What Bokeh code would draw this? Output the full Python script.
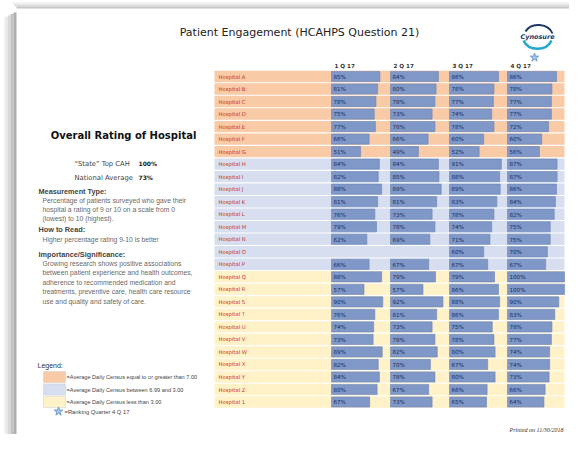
from bokeh.plotting import figure
from bokeh.models import Range1d, ColumnDataSource
from bokeh.core.properties import value
from bokeh.embed import file_html
from bokeh.resources import INLINE

# ---------------- data ----------------
hospitals = ["Hospital A", "Hospital B", "Hospital C", "Hospital D", "Hospital E", "Hospital F",
             "Hospital G", "Hospital H", "Hospital I", "Hospital J", "Hospital K", "Hospital L",
             "Hospital M", "Hospital N", "Hospital O", "Hospital P", "Hospital Q", "Hospital R",
             "Hospital S", "Hospital T", "Hospital U", "Hospital V", "Hospital W", "Hospital X",
             "Hospital Y", "Hospital Z", "Hospital 1"]
census_group = [0] * 7 + [1] * 9 + [2] * 11
quarters = ["1 Q 17", "2 Q 17", "3 Q 17", "4 Q 17"]
q1 = [85, 81, 78, 75, 77, 66, 51, 84, 82, 88, 81, 76, 79, 62, None, 66,
      88, 57, 90, 76, 74, 73, 89, 82, 84, 80, 67]
q2 = [84, 80, 78, 73, 78, 66, 49, 84, 85, 89, 81, 73, 78, 69, None, 67,
      79, 57, 92, 81, 73, 78, 82, 70, 78, 67, 73]
q3 = [86, 78, 77, 74, 78, 60, 52, 91, 88, 89, 83, 78, 74, 71, 60, 67,
      79, 86, 88, 86, 75, 78, 80, 67, 80, 66, 65]
q4 = [86, 78, 77, 77, 72, 60, 56, 87, 87, 86, 84, 82, 75, 75, 70, 67,
      100, 100, 90, 83, 78, 77, 74, 74, 73, 66, 64]
series = [q1, q2, q3, q4]
state_top = "100%"
national_avg = "73%"
legend_labels = ["=Average Daily Census equal to or greater than 7.00",
                 "=Average Daily Census between 6.99 and 3.00",
                 "=Average Daily Census less than 3.00"]

# ---------------- styles / layout ----------------
group_colors = ["#F9CAA6", "#D6DEEF", "#FFF2C8"]
bar_color = "#7F98C8"
bar_line = "#6A84B6"
W, H = 569, 434
row_y0, row_pitch = 76.0, 12.52
table_left, table_right = 214, 564
col_x0 = [331, 390, 449, 507]
px_per_pct = 0.57

p = figure(width=W, height=H, x_range=Range1d(0, W), y_range=Range1d(H, 0),
           output_backend="svg", toolbar_location=None, min_border=0,
           x_axis_location=None, y_axis_location=None)
p.xgrid.visible = False
p.ygrid.visible = False
p.outline_line_color = None
p.background_fill_color = "white"
p.border_fill_color = "white"

# paper shadow (left and top)
lshadow = [(4, 7, "#ececec"), (7, 10, "#d8d8d8"), (10, 13, "#c2c2c2"), (13, 16, "#adadad")]
for a, b, c in lshadow:
    p.quad(left=a, right=b, top=8 + (16 - b) * 0.5 + 4, bottom=H, fill_color=c, line_color=None)
tshadow = [(2, 4, "#eeeeee"), (4, 6, "#dcdcdc"), (6, 8, "#c6c6c6")]
for a, b, c in tshadow:
    p.quad(left=16 - (8 - b), right=W, top=a, bottom=b, fill_color=c, line_color=None)

# title
FONT = value("DejaVu Sans")
p.text(x=[299], y=[32], text=["Patient Engagement (HCAHPS Question 21)"], text_font=FONT,
       text_font_size="11px", text_align="center", text_baseline="middle", text_color="#222222")

# logo
p.bezier(x0=[525], y0=[31], x1=[552], y1=[33], cx0=[531], cy0=[21], cx1=[548], cy1=[23],
         line_color="#1F3864", line_width=2)
p.bezier(x0=[523], y0=[40], x1=[551], y1=[40], cx0=[528], cy0=[51], cx1=[546], cy1=[51],
         line_color="#23A7CB", line_width=2.5)
p.text(x=[537], y=[36], text=["Cynosure"], text_font=FONT, text_font_size="6.5px",
       text_font_style="bold italic", text_align="center", text_baseline="middle",
       text_color="#1F3864")

# ---------------- table ----------------
n = len(hospitals)
cy = [row_y0 + i * row_pitch for i in range(n)]
band = ColumnDataSource(dict(
    top=[c - 5.7 for c in cy], bottom=[c + 5.7 for c in cy],
    color=[group_colors[g] for g in census_group]))
p.quad(left=table_left, right=table_right, top="top", bottom="bottom", fill_color="color",
       line_color=None, source=band)

p.text(x=[table_left + 4] * n, y=cy, text=hospitals, text_font=FONT, text_font_size="5.3px",
       text_baseline="middle", text_color="#C8372D")

for j, vals in enumerate(series):
    idx = [i for i, v in enumerate(vals) if v is not None]
    src = ColumnDataSource(dict(
        left=[col_x0[j]] * len(idx),
        right=[col_x0[j] + vals[i] * px_per_pct for i in idx],
        top=[cy[i] - 5.1 for i in idx],
        bottom=[cy[i] + 5.1 for i in idx],
        lx=[col_x0[j] + 2] * len(idx),
        ly=[cy[i] + 0.3 for i in idx],
        lab=["%d%%" % vals[i] for i in idx]))
    p.quad(left="left", right="right", top="top", bottom="bottom", fill_color=bar_color,
           line_color=bar_line, line_width=0.6, source=src)
    p.text(x="lx", y="ly", text="lab", text_font=FONT, text_font_size="5.6px",
           text_baseline="middle", text_color="#1B2C5C", source=src)

p.text(x=[x + 3 for x in col_x0], y=[65] * 4, text=quarters, text_font=FONT,
       text_font_size="5.6px", text_font_style="bold", text_baseline="middle",
       text_color="#333333")
p.scatter(x=[col_x0[3] + 27], y=[57], marker="star", size=9, fill_color="#A9C8E8",
          line_color="#5B8BC5", line_width=0.8)

# ---------------- left panel ----------------
p.text(x=[123], y=[135], text=["Overall Rating of Hospital"], text_font=FONT,
       text_font_size="10px", text_font_style="bold", text_align="center",
       text_baseline="middle", text_color="#111111")
p.text(x=[74, 74], y=[163, 177], text=["\u201cState\u201d Top CAH", "National Average"],
       text_font=FONT, text_font_size="6.8px", text_baseline="middle", text_color="#444444")
p.text(x=[138, 138], y=[163, 177], text=[state_top, national_avg], text_font=FONT,
       text_font_size="6px", text_font_style="bold", text_baseline="middle",
       text_color="#222222")

LIB = value("Liberation Sans")
heads = ["Measurement Type:", "How to Read:", "Importance/Significance:"]
head_y = [191, 229, 254]
p.text(x=[38] * 3, y=head_y, text=heads, text_font=LIB, text_font_size="7.3px",
       text_font_style="bold", text_baseline="middle", text_color="#444444")
body = ["Percentage of patients surveyed who gave their",
        "hospital a rating of 9 or 10 on a scale from 0",
        "(lowest) to 10 (highest).",
        "Higher percentage rating 9-10 is better",
        "Growing research shows positive associations",
        "between patient experience and health outcomes,",
        "adherence to recommended medication and",
        "treatments, preventive care, health care resource",
        "use and quality and safety of care."]
body_y = [200, 209, 218, 239, 262.5, 272, 281.5, 291, 300.5]
p.text(x=[42] * len(body), y=body_y, text=body, text_font=LIB, text_font_size="6.8px",
       text_baseline="middle", text_color="#6a6a6a")

# legend
p.text(x=[37], y=[365], text=["Legend:"], text_font=LIB, text_font_size="7px",
       text_baseline="middle", text_color="#333333")
sw_y = [376.5, 389, 401.5]
p.quad(left=[43] * 3, right=[65] * 3, top=[y - 5.6 for y in sw_y], bottom=[y + 5.6 for y in sw_y],
       fill_color=group_colors, line_color="#cccccc", line_width=0.5)
p.text(x=[66] * 3, y=sw_y, text=legend_labels, text_font=LIB, text_font_size="5.6px",
       text_baseline="middle", text_color="#444444")
p.scatter(x=[58], y=[411], marker="star", size=9, fill_color="#A9C8E8",
          line_color="#5B8BC5", line_width=0.8)
p.text(x=[64], y=[411], text=["=Ranking Quarter 4 Q 17"], text_font=LIB,
       text_font_size="5.8px", text_baseline="middle", text_color="#444444")

# footer
p.text(x=[563], y=[429], text=["Printed on 11/30/2018"], text_font=value("Liberation Serif"),
       text_font_size="6px", text_font_style="italic", text_align="right",
       text_baseline="middle", text_color="#333333")

open("out.html", "w").write(file_html(p, INLINE))
